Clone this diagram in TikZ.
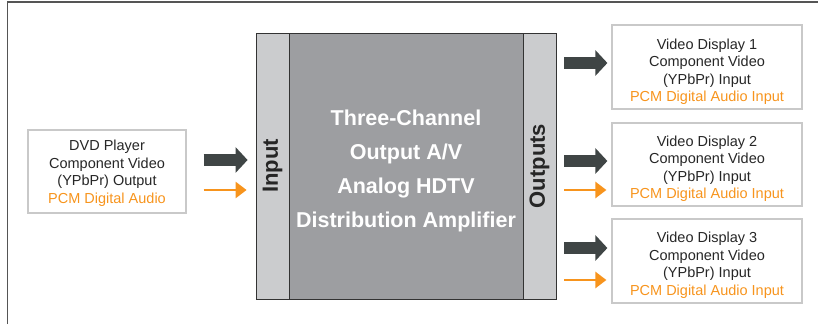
\documentclass[tikz,border=0pt]{standalone}
\usepackage{fontspec}
\setmainfont{Liberation Sans}
\usetikzlibrary{arrows.meta}

\definecolor{ampgray}{HTML}{9D9EA1}
\definecolor{bargray}{HTML}{CBCCCE}
\definecolor{arrowgray}{HTML}{3F4545}
\definecolor{audioorange}{HTML}{F7941D}
\definecolor{boxgray}{HTML}{C9C9C9}
\definecolor{textgray}{HTML}{262626}
\definecolor{framegray}{HTML}{555555}

\tikzset{
  devbox/.style={draw=boxgray, line width=1.2pt, inner sep=0pt},
  devtext/.style={align=center, text=textgray, inner sep=0pt,
    font=\fontsize{14.5}{17.5}\selectfont},
  barbox/.style={draw=black!80, fill=bargray, line width=1pt, rotate=90,
    minimum width=266pt, minimum height=33pt, inner sep=0pt,
    font=\fontsize{22}{24}\selectfont\bfseries, text=black!85},
  vidarrow/.style={arrowgray, line width=12pt, -{Triangle[length=12pt,width=25pt]}},
  audarrow/.style={audioorange, line width=2.5pt, -{Triangle[length=11pt,width=16pt]}},
}

\begin{document}
\begin{tikzpicture}[x=1pt,y=-1pt]
    \useasboundingbox (0,0) rectangle (818,324);

    % frame
    \draw[framegray, line width=1.5pt] (7.5,324) -- (7.5,2) -- (818,2);

    %Source
    \node[devbox, minimum width=158pt, minimum height=83pt] (dvd) at (107,171.5) {};
    \node[devtext] (dvdtxt) at ([yshift=-1.5pt]dvd.center)
      {DVD Player\\Component Video\\(YPbPr) Output\\{\color{audioorange}PCM Digital Audio}};

    %Amplifier
    \node[draw=black!80, fill=ampgray, line width=1pt, minimum width=234pt, minimum height=266pt,
      inner sep=0pt] (amp) at (406,166) {};
    \node[align=center, text=white, inner sep=0pt, font=\fontsize{21.5}{34}\selectfont\bfseries]
      (amptxt) at ([yshift=-5pt]amp.center)
      {Three-Channel\\Output A/V\\Analog HDTV\\Distribution Amplifier};
    \node[barbox] (inbar) at (272.5,166) {Input};
    \node[barbox] (outbar) at (539.5,166) {Outputs};

    %Displays
    \node[devbox, minimum width=190pt, minimum height=84pt] (disp1) at (707,67) {};
    \node[devtext] (disp1txt) at ([yshift=-4.5pt]disp1.center)
      {Video Display 1\\Component Video\\(YPbPr) Input\\{\color{audioorange}PCM Digital Audio Input}};
    \node[devbox, minimum width=190pt, minimum height=83pt] (disp2) at (707,164.5) {};
    \node[devtext] (disp2txt) at ([yshift=-4pt]disp2.center)
      {Video Display 2\\Component Video\\(YPbPr) Input\\{\color{audioorange}PCM Digital Audio Input}};
    \node[devbox, minimum width=190pt, minimum height=84pt] (disp3) at (707,261) {};
    \node[devtext] (disp3txt) at ([yshift=-4pt]disp3.center)
      {Video Display 3\\Component Video\\(YPbPr) Input\\{\color{audioorange}PCM Digital Audio Input}};

    %Arrows in
    \draw[vidarrow] (dvd.east) ++(17,-11.5) -- ++(44,0);
    \draw[audarrow] (dvd.east) ++(17,18.5) -- ++(43,0);

    %Arrows out
    \draw[vidarrow] (disp1.west) ++(-47,-4) -- ++(43,0);
    \draw[vidarrow] (disp2.west) ++(-47,-3.5) -- ++(43,0);
    \draw[audarrow] (disp2.west) ++(-47,25.5) -- ++(42,0);
    \draw[vidarrow] (disp3.west) ++(-47,-13) -- ++(43,0);
    \draw[audarrow] (disp3.west) ++(-47,19) -- ++(42,0);
\end{tikzpicture}
\end{document}
